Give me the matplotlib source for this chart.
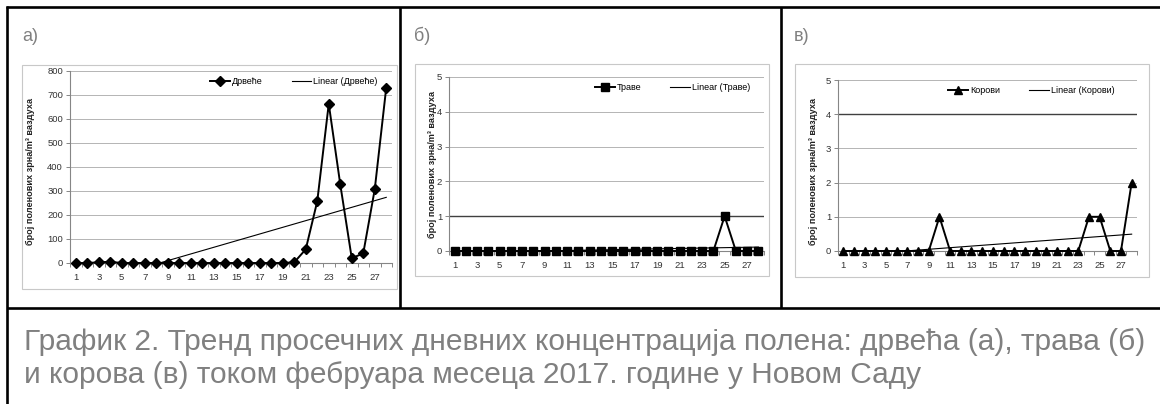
import numpy as np
import matplotlib
matplotlib.use("Agg")
import matplotlib.pyplot as plt
from matplotlib.lines import Line2D
from matplotlib.patches import Rectangle

plt.rcParams['font.family'] = ['Liberation Sans', 'DejaVu Sans']

days = list(range(1, 29))
xtick_labels = [str(d) for d in range(1, 29, 2)]
drvece = [0, 0, 3, 5, 0, 0, 0, 0, 0, 0, 0, 0, 0, 0, 0, 0, 0, 0, 0, 3,
          57, 257, 663, 328, 20, 40, 307, 731]
trave = [0] * 24 + [1, 0, 0, 0]
korovi = [0] * 9 + [1] + [0] * 13 + [1, 1, 0, 0, 2]

series_names = ["Дрвеће", "Траве", "Корови"]
panel_labels = ["а)", "б)", "в)"]
ylabel = "број поленових зрна/m³ ваздуха"
caption1 = "График 2. Тренд просечних дневних концентрација полена: дрвећа (а), трава (б)"
caption2 = "и корова (в) током фебруара месеца 2017. године у Новом Саду"

W, H = 1160, 404
fig = plt.figure(figsize=(W / 100, H / 100), dpi=100)


def rect(x0, y0, x1, y1):
    return [x0 / W, 1 - y1 / H, (x1 - x0) / W, (y1 - y0) / H]


def fx(x):
    return x / W


def fy(y):
    return 1 - y / H


# table borders
bk = dict(color="black", lw=1.9, solid_capstyle="butt")
fig.add_artist(Line2D([fx(6.5), fx(6.5)], [fy(5.5), fy(404)], **bk))
fig.add_artist(Line2D([fx(5.5), fx(1160)], [fy(6.5), fy(6.5)], **bk))
fig.add_artist(Line2D([fx(400), fx(400)], [fy(6.5), fy(308)], **bk))
fig.add_artist(Line2D([fx(781), fx(781)], [fy(6.5), fy(308)], **bk))
fig.add_artist(Line2D([fx(6.5), fx(1160)], [fy(308), fy(308)], **bk))

panels = [
    dict(data=drvece, marker="D", ms=5.5, box=(22, 65, 397, 289), plot=(70, 71, 392, 263),
         ylim=(0, 800), yticks=range(0, 801, 100), lab=(22, 41), ylab=(30, 172),
         leg=(0.975, 1.0), dark=None),
    dict(data=trave, marker="s", ms=5.5, box=(415, 64, 769, 276), plot=(449, 77, 764, 251),
         ylim=(0, 5), yticks=range(0, 6), lab=(414, 41), ylab=(432, 164),
         leg=(0.975, 1.0), dark=1),
    dict(data=korovi, marker="^", ms=6, box=(795, 64, 1149, 277), plot=(838, 80, 1137, 251),
         ylim=(0, 5), yticks=range(0, 6), lab=(794, 41), ylab=(813, 172),
         leg=(0.945, 1.0), dark=4),
]

gray_txt = "#808080"
for i, p in enumerate(panels):
    bx = p["box"]
    fig.add_artist(Rectangle((fx(bx[0]), fy(bx[3])), (bx[2] - bx[0]) / W, (bx[3] - bx[1]) / H,
                             transform=fig.transFigure, fill=False, ec="#c8c8c8", lw=0.8))
    fig.text(fx(p["lab"][0]), fy(p["lab"][1]), panel_labels[i], fontsize=13,
             color=gray_txt, ha="left", va="baseline")
    ax = fig.add_axes(rect(*p["plot"]))
    y = np.array(p["data"], dtype=float)
    x = np.array(days, dtype=float)
    for yt in p["yticks"]:
        if yt == 0:
            continue
        c = "#404040" if p["dark"] == yt else "#b4b4b4"
        lw = 1.0 if p["dark"] == yt else 0.7
        ax.axhline(yt, color=c, lw=lw, zorder=0)
    ax.plot(x, y, color="black", lw=1.4, marker=p["marker"], ms=p["ms"],
            label=series_names[i], zorder=3, clip_on=False)
    k, b = np.polyfit(x, y, 1)
    ax.plot(x, k * x + b, color="black", lw=0.8, label="Linear (" + series_names[i] + ")", zorder=2)
    ax.set_xlim(0.5, 28.5)
    ax.set_ylim(*p["ylim"])
    ax.set_yticks(list(p["yticks"]))
    ax.set_xticks(range(1, 29, 2))
    ax.set_xticklabels(xtick_labels)
    ax.set_xticks(np.arange(0.5, 29, 1.0), minor=True)
    for s in ["top", "right"]:
        ax.spines[s].set_visible(False)
    for s in ["left", "bottom"]:
        ax.spines[s].set_color("#868686")
        ax.spines[s].set_linewidth(0.8)
    ax.tick_params(axis="x", which="major", length=0, labelsize=6.8, pad=7, colors="#333333")
    ax.tick_params(axis="x", which="minor", length=3, color="#868686", width=0.7)
    ax.tick_params(axis="y", which="major", length=3, color="#868686", width=0.7,
                   labelsize=6.8, pad=2, labelcolor="#333333")
    ax.patch.set_alpha(0)
    leg = ax.legend(ncol=2, frameon=False, loc="upper right", bbox_to_anchor=p["leg"],
                    fontsize=6.5, handlelength=2.2, columnspacing=3.2, handletextpad=0.2,
                    borderaxespad=0.3)
    fig.text(fx(p["ylab"][0]), fy(p["ylab"][1]), ylabel, rotation=90, fontsize=6.6,
             fontweight="bold", ha="center", va="center", color="#222222")

fig.text(fx(24), fy(350), caption1, fontsize=21.5, color=gray_txt, ha="left", va="baseline")
fig.text(fx(24), fy(383), caption2, fontsize=21.5, color=gray_txt, ha="left", va="baseline")

fig.savefig("out.png", dpi=100, facecolor="white")
